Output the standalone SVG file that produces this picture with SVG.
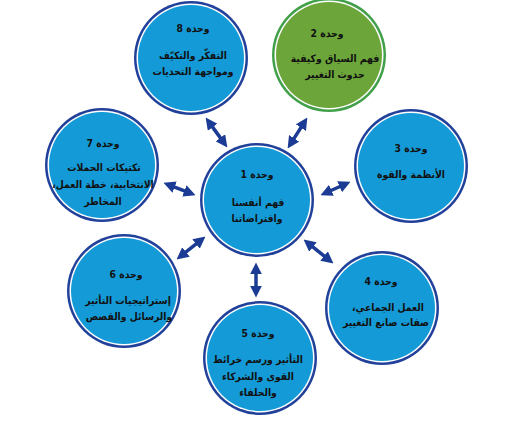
<svg xmlns="http://www.w3.org/2000/svg" width="512" height="421" viewBox="0 0 512 421">
<style>
.ring{fill:#21409a}
.ringg{fill:#42a04a}
.gap{fill:#ffffff}
.blue{fill:#149ad7}
.green{fill:#6ca63a}
.t{font-family:"DejaVu Sans Condensed","DejaVu Sans",sans-serif;font-stretch:condensed;font-weight:bold;font-size:10.3px;fill:#111;text-anchor:middle}
.conn{stroke:#1c3b94;stroke-width:3.5;fill:none}
</style>
<defs>
<marker id="ah" viewBox="0 0 10 10" markerWidth="12" markerHeight="12" refX="4.5" refY="5" orient="auto-start-reverse" markerUnits="userSpaceOnUse">
<path d="M0,0 L10,5 L0,10 z" fill="#1c3b94"/>
</marker>
</defs>
<rect width="512" height="421" fill="#ffffff"/>
<g id="connectors">
<line class="conn" x1="209.5" y1="122.9" x2="223.5" y2="142.1" marker-start="url(#ah)" marker-end="url(#ah)"/>
<line class="conn" x1="303.8" y1="123.1" x2="291.2" y2="142.9" marker-start="url(#ah)" marker-end="url(#ah)"/>
<line class="conn" x1="169.6" y1="185.2" x2="189.4" y2="192.8" marker-start="url(#ah)" marker-end="url(#ah)"/>
<line class="conn" x1="326.5" y1="192.5" x2="344.5" y2="184.5" marker-start="url(#ah)" marker-end="url(#ah)"/>
<line class="conn" x1="181.7" y1="255.3" x2="200.3" y2="240.7" marker-start="url(#ah)" marker-end="url(#ah)"/>
<line class="conn" x1="308.7" y1="243.7" x2="328.3" y2="259.3" marker-start="url(#ah)" marker-end="url(#ah)"/>
<line class="conn" x1="256" y1="269" x2="256" y2="291" marker-start="url(#ah)" marker-end="url(#ah)"/>
</g>
<g id="unit8">
<circle class="ring" cx="191" cy="58" r="57"/><circle class="gap" cx="191" cy="58" r="54.5"/><circle class="blue" cx="191" cy="58" r="53"/>
<text class="t" direction="rtl" x="193" y="32">وحدة 8</text>
<text class="t" direction="rtl" x="193" y="59">التفكّر والتكيّف</text>
<text class="t" direction="rtl" x="193" y="75">ومواجهة التحديات</text>
</g>
<g id="unit2">
<circle class="ringg" cx="329" cy="55" r="57"/><circle class="gap" cx="329" cy="55" r="54.5"/><circle class="green" cx="329" cy="55" r="53"/>
<text class="t" direction="rtl" x="327" y="37">وحدة 2</text>
<text class="t" direction="rtl" x="335" y="62">فهم السياق وكيفية</text>
<text class="t" direction="rtl" x="335" y="78">حدوث التغيير</text>
</g>
<g id="unit3">
<circle class="ring" cx="411" cy="166" r="57"/><circle class="gap" cx="411" cy="166" r="54.5"/><circle class="blue" cx="411" cy="166" r="53"/>
<text class="t" direction="rtl" x="411" y="152">وحدة 3</text>
<text class="t" direction="rtl" x="411" y="178">الأنظمة والقوة</text>
</g>
<g id="unit7">
<circle class="ring" cx="102" cy="165" r="57"/><circle class="gap" cx="102" cy="165" r="54.5"/><circle class="blue" cx="102" cy="165" r="53"/>
<text class="t" direction="rtl" x="103" y="147">وحدة 7</text>
<text class="t" direction="rtl" x="104" y="171">تكتيكات الحملات</text>
<text class="t" direction="rtl" x="103" y="188">الانتخابية، خطة العمل،</text>
<text class="t" direction="rtl" x="103" y="205">المخاطر</text>
</g>
<g id="unit1">
<circle class="ring" cx="257" cy="200" r="57"/><circle class="gap" cx="257" cy="200" r="54.5"/><circle class="blue" cx="257" cy="200" r="53"/>
<text class="t" direction="rtl" x="257" y="178">وحدة 1</text>
<text class="t" direction="rtl" x="258" y="206">فهم أنفسنا</text>
<text class="t" direction="rtl" x="257" y="222">وافتراضاتنا</text>
</g>
<g id="unit6">
<circle class="ring" cx="124" cy="291" r="57"/><circle class="gap" cx="124" cy="291" r="54.5"/><circle class="blue" cx="124" cy="291" r="53"/>
<text class="t" direction="rtl" x="126" y="278">وحدة 6</text>
<text class="t" direction="rtl" x="128" y="304">إستراتيجيات التأثير</text>
<text class="t" direction="rtl" x="129" y="320">والرسائل والقصص</text>
</g>
<g id="unit4">
<circle class="ring" cx="382" cy="308" r="57"/><circle class="gap" cx="382" cy="308" r="54.5"/><circle class="blue" cx="382" cy="308" r="53"/>
<text class="t" direction="rtl" x="381" y="285">وحدة 4</text>
<text class="t" direction="rtl" x="388" y="311">العمل الجماعي،</text>
<text class="t" direction="rtl" x="386" y="326">صفات صانع التغيير</text>
</g>
<g id="unit5">
<circle class="ring" cx="260" cy="358" r="57"/><circle class="gap" cx="260" cy="358" r="54.5"/><circle class="blue" cx="260" cy="358" r="53"/>
<text class="t" direction="rtl" x="258" y="337">وحدة 5</text>
<text class="t" direction="rtl" x="258" y="363">التأثير ورسم خرائط</text>
<text class="t" direction="rtl" x="258" y="380">القوى والشركاء</text>
<text class="t" direction="rtl" x="258" y="396">والحلفاء</text>
</g>
</svg>
